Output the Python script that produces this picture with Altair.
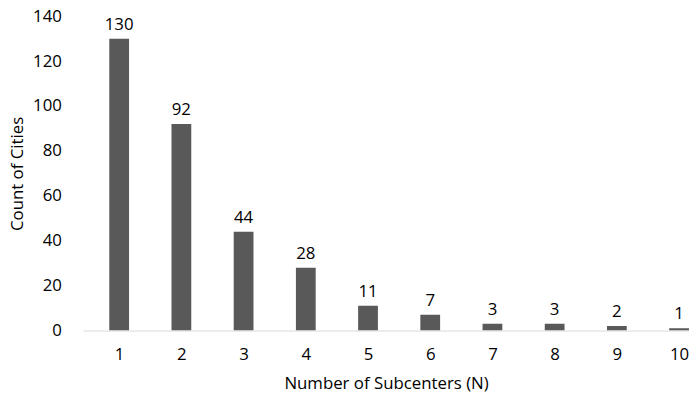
import altair as alt
import pandas as pd

subcenters = [1, 2, 3, 4, 5, 6, 7, 8, 9, 10]
counts = [130, 92, 44, 28, 11, 7, 3, 3, 2, 1]

df = pd.DataFrame({'N': subcenters, 'Count': counts})

font = 'Open Sans'

base = alt.Chart(df).encode(
    x=alt.X('N:Q', title='Number of Subcenters (N)',
            scale=alt.Scale(domain=[0.5, 10.08], nice=False, zero=False),
            axis=alt.Axis(values=subcenters, ticks=False, grid=False, labelPadding=16,
                          domainColor='#d9d9d9', titlePadding=14, labelFlush=False)),
    y=alt.Y('Count:Q', title='Count of Cities',
            scale=alt.Scale(domain=[0, 140]),
            axis=alt.Axis(values=list(range(0, 141, 20)), ticks=False, grid=False,
                          domain=False, labelPadding=22, titlePadding=6)),
)

bars = base.mark_bar(size=20, color='#595959', clip=True)
labels = base.mark_text(dy=-14, fontSize=17, font=font, color='#000000', clip=False).encode(text='Count:Q')

chart = (bars + labels).properties(
    width=613, height=318,
    padding={'left': 76, 'top': 6, 'right': 0, 'bottom': 74},
    autosize=alt.AutoSizeParams(type='none'),
).configure_axis(
    labelFont=font, titleFont=font, labelFontSize=17, titleFontSize=17,
    labelColor='#000000', titleColor='#000000', titleFontWeight='normal'
).configure_view(stroke=None)

chart.save("out.html", embed_options={"renderer": "svg", "actions": False})
